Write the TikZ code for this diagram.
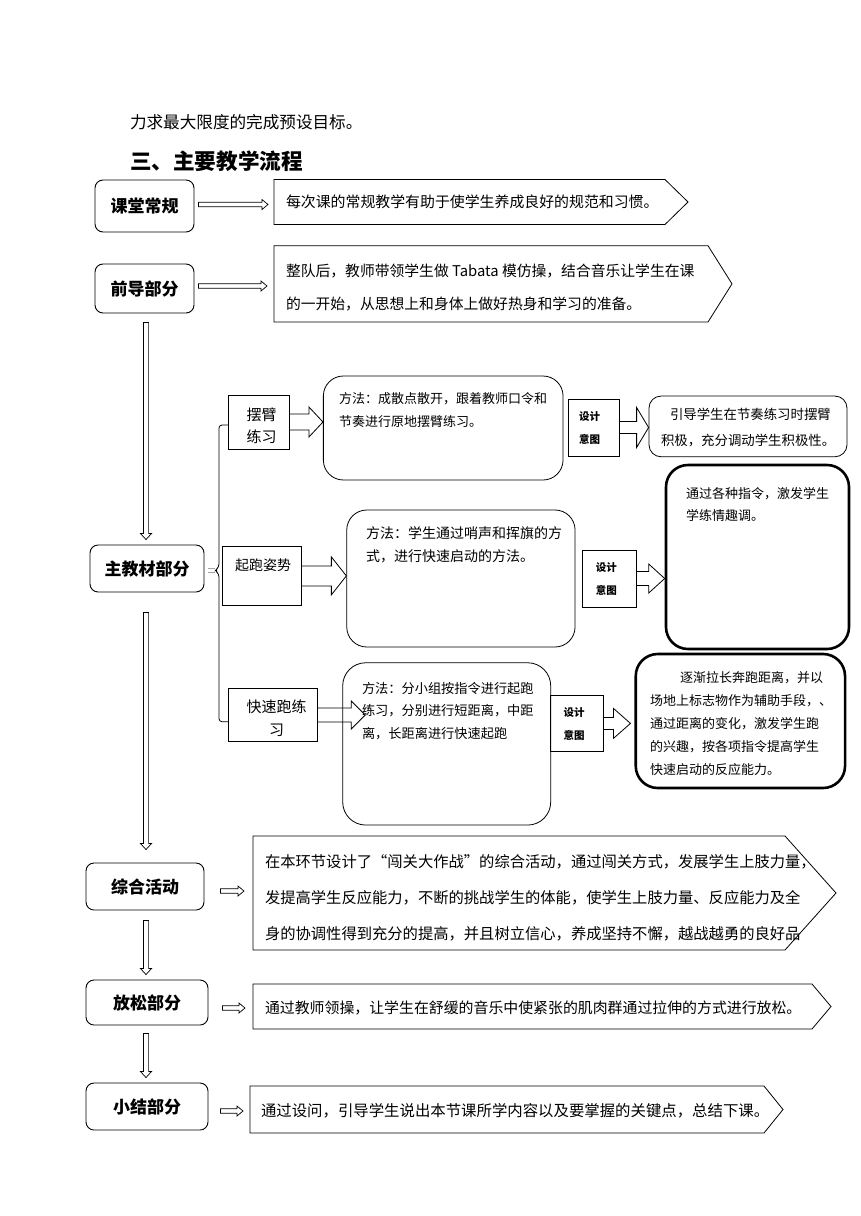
\documentclass[tikz,border=0pt]{standalone}
\usepackage{fontspec}
\setmainfont{Noto Sans CJK SC}
\usetikzlibrary{arrows.meta,calc}
\newcommand\fsz[2]{\fontsize{#1}{#2}\selectfont}
\newcommand\blockarr[5]{\draw[blk] let \p1=(#1), \p2=(#2) in (\x1,\y1+#3) -- (\x2-#5,\y1+#3) -- (\x2-#5,\y1+#4) -- (\x2,\y1) -- (\x2-#5,\y1-#4) -- (\x2-#5,\y1-#3) -- (\x1,\y1-#3);}
\newcommand\thinarrh[5]{\draw[blk, line width=0.7pt] let \p1=(#1), \p2=(#2) in (\x1,\y1+#3) -- (\x2-#5,\y1+#3) -- (\x2-#5,\y1+#4) -- (\x2,\y1) -- (\x2-#5,\y1-#4) -- (\x2-#5,\y1-#3) -- (\x1,\y1-#3) -- cycle;}
\newcommand\thinarrv[5]{\draw[blk, line width=0.7pt] let \p1=(#1), \p2=(#2) in (\x1-#3,\y1) -- (\x1-#3,\y2+#5) -- (\x1-#4,\y2+#5) -- (\x1,\y2) -- (\x1+#4,\y2+#5) -- (\x1+#3,\y2+#5) -- (\x1+#3,\y1) -- cycle;}
\tikzset{
  sz/.style 2 args={minimum width=#1pt, minimum height=#2pt},
  mainbox/.style={draw, line width=0.9pt, rounded corners=8pt, inner sep=0, font=\bfseries\fsz{17}{20}},
  rbox/.style={draw, line width=0.8pt, inner sep=0},
  rbx/.style={draw, line width=0.8pt, rounded corners=20pt, inner sep=0},
  thickrbx/.style={draw, line width=2.6pt, rounded corners=22pt, inner sep=0},
  pent/.style={draw, line width=0.8pt, line join=miter},
  blk/.style={draw, line width=0.8pt, line join=miter},
  txt/.style={inner sep=0, outer sep=0, align=left},
  shape only/.style={inner sep=0, outer sep=0}
}
\begin{document}
\begin{tikzpicture}[x=1pt,y=-1pt]
\useasboundingbox[fill=white] (0,0) rectangle (860,1216);

% heading
\node[txt, anchor=west, font=\fsz{16.6}{20}] (intro) at (130,122) {力求最大限度的完成预设目标。};
\node[txt, anchor=west, font=\bfseries\fsz{21.6}{26}] (head) at (130,161) {三、主要教学流程};

% left column
\node[mainbox, sz={99}{52}] (c1) at (144.5,206) {课堂常规};
\node[mainbox, sz={99}{49}] (c2) at (144.5,288.5) {前导部分};
\node[mainbox, sz={114}{47}] (c3) at (147,568.5) {主教材部分};
\node[mainbox, sz={118}{47}] (c4) at (145,886.5) {综合活动};
\node[mainbox, sz={122}{45}] (c5) at (147,1002.5) {放松部分};
\node[mainbox, sz={122}{47}] (c6) at (147,1106.5) {小结部分};

% pentagons
\node[shape only, sz={391}{45}] (p1) at (469.5,202) {};
\draw[pent] (p1.north west) -- (p1.north east) -- ([xshift=23pt]p1.east) -- (p1.south east) -- (p1.south west) -- cycle;
\node[shape only, sz={434}{76.3}] (p2) at (491,283.85) {};
\draw[pent] (p2.north west) -- (p2.north east) -- ([xshift=24pt]p2.east) -- (p2.south east) -- (p2.south west) -- cycle;
\node[shape only, sz={532}{114}] (p3) at (519,893) {};
\draw[pent] (p3.north west) -- (p3.north east) -- ([xshift=51pt]p3.east) -- (p3.south east) -- (p3.south west) -- cycle;
\node[shape only, sz={559}{45}] (p4) at (532.5,1006.5) {};
\draw[pent] (p4.north west) -- (p4.north east) -- ([xshift=19pt]p4.east) -- (p4.south east) -- (p4.south west) -- cycle;
\node[shape only, sz={514}{47}] (p5) at (507,1109.5) {};
\draw[pent] (p5.north west) -- (p5.north east) -- ([xshift=19pt]p5.east) -- (p5.south east) -- (p5.south west) -- cycle;

% pentagon texts
\node[txt, anchor=west, font=\fsz{14.9}{18}] (tp1) at (286,202) {每次课的常规教学有助于使学生养成良好的规范和习惯。};
\node[txt, anchor=north west, font=\fsz{14.8}{33}] (tp2) at (286,263.5) {整队后，教师带领学生做 Tabata 模仿操，结合音乐让学生在课\\的一开始，从思想上和身体上做好热身和学习的准备。};
\node[txt, anchor=north west, font=\fsz{15.3}{36}] (tp3) at (265,854.8) {在本环节设计了“闯关大作战”的综合活动，通过闯关方式，发展学生上肢力量，\\发提高学生反应能力，不断的挑战学生的体能，使学生上肢力量、反应能力及全\\身的协调性得到充分的提高，并且树立信心，养成坚持不懈，越战越勇的良好品};
\node[txt, anchor=west, font=\fsz{14.9}{18}] (tp4) at (265,1008) {通过教师领操，让学生在舒缓的音乐中使紧张的肌肉群通过拉伸的方式进行放松。};
\node[txt, anchor=west, font=\fsz{15.4}{18}] (tp5) at (261,1111) {通过设问，引导学生说出本节课所学内容以及要掌握的关键点，总结下课。};

% main arrows (hollow)
\thinarrh{$(c1.east)+(4,-1.5)$}{$(p1.west)+(-6,0)$}{2.3pt}{5pt}{6pt}
\thinarrh{$(c2.east)+(4,-2.5)$}{$(p2.west)+(-7,0)$}{2.3pt}{5pt}{6pt}
\thinarrh{$(c4.east)+(16,4.5)$}{$(p3.west)+(-9,0)$}{2.3pt}{5pt}{6pt}
\thinarrh{$(c5.east)+(14,5.5)$}{$(p4.west)+(-8,0)$}{2.3pt}{5pt}{6pt}
\thinarrh{$(c6.east)+(12,4.5)$}{$(p5.west)+(-7,0)$}{2.3pt}{5pt}{6pt}
\thinarrv{$(c2.south)+(1.5,9)$}{$(c3.north)+(0,-5)$}{2.6pt}{5.5pt}{6pt}
\thinarrv{$(c3.south)+(-1,20)$}{$(c4.north)+(0,-13)$}{2.6pt}{5.5pt}{6pt}
\thinarrv{$(c4.south)+(1,10)$}{$(c5.north)+(0,-5)$}{2.6pt}{5.5pt}{6pt}
\thinarrv{$(c5.south)+(-1,8)$}{$(c6.north)+(0,-5)$}{2.6pt}{5.5pt}{6pt}

% sub boxes
\node[rbox, sz={61}{54}] (s1) at (258.8,422) {};
\node[rbox, sz={79}{58.3}] (s2) at (262.2,575.9) {};
\node[rbox, sz={89}{53.4}] (s3) at (272.8,715) {};
\node[txt, align=center, font=\fsz{15}{21.7}] (st1) at (261.7,426) {摆臂\\练习};
\node[txt, anchor=west, font=\fsz{14}{17}] (st2) at (235,565) {起跑姿势};
\node[txt, align=center, font=\fsz{15}{22.6}] (st3) at (276.7,718) {快速跑练\\习};

% bracket
\coordinate (brtop) at (228.3,425);
\coordinate (brbot) at (228.3,721.7);
\coordinate (brmid) at (215,570.5);
\draw[line width=0.8pt, rounded corners=3pt] (brtop) -- (219,425) -- (219,567) -- (brmid) -- (219,574) -- (219,721.7) -- (brbot);
\draw[gray!70, line width=0.6pt] ([xshift=4pt,yshift=2pt]c3.east |- brmid) -- ([yshift=2pt]brmid) ([xshift=4pt,yshift=-2pt]c3.east |- brmid) -- ([yshift=-2pt]brmid);

% method boxes
\node[rbx, sz={239.7}{104}] (m1) at (443.2,428) {};
\node[rbx, sz={228.3}{137}] (m2) at (460.9,578.5) {};
\node[rbx, rounded corners=23pt, sz={208}{162.3}] (m3) at (446.7,743.9) {};
\node[txt, anchor=north west, font=\fsz{13}{23.4}] (mt1) at (339,392.2) {方法：成散点散开，跟着教师口令和\\节奏进行原地摆臂练习。};
\node[txt, anchor=north west, font=\fsz{14}{23.4}] (mt2) at (366,526.7) {方法：学生通过哨声和挥旗的方\\式，进行快速启动的方法。};
\node[txt, anchor=north west, font=\fsz{13.2}{22.5}] (mt3) at (362,682.1) {方法：分小组按指令进行起跑\\练习，分别进行短距离，中距\\离，长距离进行快速起跑};

% design boxes
\node[rbox, sz={51}{57}] (d1) at (593.5,427.5) {};
\node[rbox, sz={53.3}{57}] (d2) at (609.4,578.5) {};
\node[rbox, sz={52.6}{56.7}] (d3) at (577,723.4) {};
\node[txt, align=center, font=\bfseries\fsz{10.5}{23}] (dt1) at ($(d1.center)+(-4,0.5)$) {设计\\意图};
\node[txt, align=center, font=\bfseries\fsz{10.5}{23}] (dt2) at ($(d2.center)+(-3,0.5)$) {设计\\意图};
\node[txt, align=center, font=\bfseries\fsz{10.5}{23}] (dt3) at ($(d3.center)+(-3,0.5)$) {设计\\意图};

% result boxes
\node[rbx, rounded corners=12pt, sz={198}{60.7}] (r1) at (748,426.4) {};
\node[thickrbx, sz={183}{184}] (r2) at (757.5,557) {};
\node[thickrbx, sz={209.3}{134}] (r3) at (740.4,721) {};
\node[txt, anchor=north west, font=\fsz{13.4}{26}] (rt1) at (661,407.7) {\hspace*{9pt}引导学生在节奏练习时摆臂\\积极，充分调动学生积极性。};
\node[txt, anchor=north west, font=\fsz{13}{22}] (rt2) at (686,487.2) {通过各种指令，激发学生\\学练情趣调。};
\node[txt, anchor=north west, font=\fsz{13}{22.8}] (rt3) at (650,671.9) {\hspace*{30pt}逐渐拉长奔跑距离，并以\\场地上标志物作为辅助手段，、\\通过距离的变化，激发学生跑\\的兴趣，按各项指令提高学生\\快速启动的反应能力。};

% block arrows
\blockarr{s1.east}{m1.west}{8pt}{15pt}{14pt}
\blockarr{s2.east}{m2.west}{10pt}{19pt}{15pt}
\blockarr{s3.east}{$(m3.west)+(23,0)$}{7pt}{14pt}{14pt}
\blockarr{d1.east}{r1.west}{6pt}{20pt}{12pt}
\blockarr{d2.east}{r2.west}{7pt}{14.5pt}{16pt}
\blockarr{d3.east}{$(r3.west)+(-4,0)$}{6pt}{15pt}{17pt}
\end{tikzpicture}
\end{document}
